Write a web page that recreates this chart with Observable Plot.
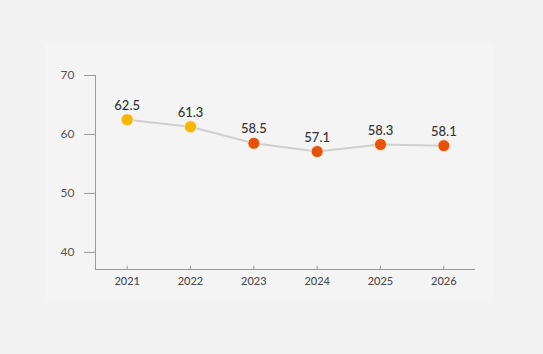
<!DOCTYPE html>
<html><head><meta charset="utf-8">
<script src="https://cdn.jsdelivr.net/npm/d3@7"></script>
<script src="https://cdn.jsdelivr.net/npm/@observablehq/plot@0.6"></script>
<style>
html,body{margin:0;padding:0;background:#f2f2f2;}
#chart{position:relative;width:543px;height:354px;}
#panel{position:absolute;left:45px;top:44px;width:448px;height:259px;background:#f4f4f4;}
#chart svg{position:absolute;left:0;top:0;}
</style>
</head><body>
<div id="chart"><div id="panel"></div></div>
<script>
const years = [2021, 2022, 2023, 2024, 2025, 2026];
const values = [62.5, 61.3, 58.5, 57.1, 58.3, 58.1];
const colors = ["#f5b700", "#f5b700", "#e8510a", "#e8510a", "#e8510a", "#e8510a"];
const yTicks = [40, 50, 60, 70];

const data = years.map((y, i) => ({year: y, value: values[i], color: colors[i]}));
const yMin = 37.1, yMax = 70;

const plot = Plot.plot({
  width: 543, height: 354,
  marginLeft: 95, marginRight: 68, marginTop: 75, marginBottom: 85,
  style: {background: "transparent", fontFamily: "Lato, 'Open Sans', sans-serif"},
  x: {domain: [2020.5, 2026.5]},
  y: {domain: [yMin, yMax]},
  marks: [
    Plot.ruleX([2020.5], {y1: yMin, y2: yMax, stroke: "#9a9a9a", strokeWidth: 1}),
    Plot.ruleY([yMin], {x1: 2020.5, x2: 2026.5, stroke: "#9a9a9a", strokeWidth: 1}),
    Plot.ruleX(years, {y1: yMin, y2: yMin + 0.55, stroke: "#9a9a9a", strokeWidth: 1}),
    Plot.axisY({ticks: yTicks, tickSize: 11, tickPadding: 10, stroke: "#9a9a9a", fill: "#555", fontSize: 12, label: null}),
    Plot.axisX({ticks: years, tickFormat: d => String(d), tickSize: 0, tickPadding: 8, fill: "#4a4a4a", fontSize: 11, fontWeight: 500, label: null}),
    Plot.line(data, {x: "year", y: "value", stroke: "#cfcfcf", strokeWidth: 2}),
    Plot.dot(data, {x: "year", y: "value", r: 6, fill: "color", stroke: "#fbe3c0", strokeWidth: 1}),
    Plot.text(data, {x: "year", y: "value", text: d => d.value.toFixed(1), dy: -14, fill: "#333", fontSize: 13, fontWeight: 500})
  ]
});
document.getElementById("chart").appendChild(plot);
</script>
</body></html>
